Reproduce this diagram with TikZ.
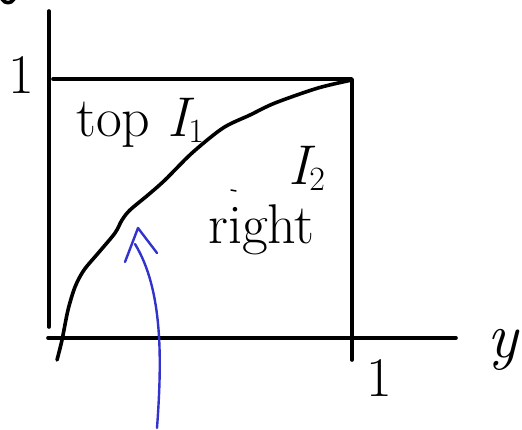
\documentclass[tikz,border=0pt]{standalone}
\newcommand{\subtxt}[1]{\raisebox{-0.12em}{\fontsize{34}{36}\selectfont #1}}
\begin{document}
\begin{tikzpicture}[x=1pt,y=-1pt,
  ink/.style={line width=3.6pt,line cap=round,line join=round,black},
  blueink/.style={line width=2.4pt,line cap=round,line join=round,color={rgb,255:red,50;green,50;blue,205}},
  hand/.style={inner sep=0pt,font=\fontsize{56}{60}\selectfont},
  handone/.style={inner sep=0pt,font=\fontsize{56}{60}\selectfont},
  handy/.style={inner sep=0pt,font=\fontsize{64}{66}\selectfont\itshape}]
\useasboundingbox (0,0) rectangle (522,429);
% axes
\coordinate (yb) at (49,327); \coordinate (yt) at (49,11);
\coordinate (xl) at (48,338); \coordinate (xr) at (456,338);
\draw[ink] (yb) -- (yt);
\draw[ink] (xl) -- (xr);
% square
\coordinate (tl) at (53,79); \coordinate (tr) at (352,79); \coordinate (br) at (352,360);
\draw[ink] (tl) -- (tr) -- (br);
% curve
\draw[ink] plot[smooth,tension=0.5] coordinates {(57,360) (62,340) (68,310) (75,287) (84,270) (100,251) (115,233) (122,220) (130,210) (148,195) (165,180) (192,153) (223,128) (250,115) (275,103) (318,88) (352,80)};
% stray marks
\draw[ink] (2,-1) .. controls (5,4) and (11,4) .. (14,-1);
\draw[line width=1.5pt,line cap=round] (231,190) -- (236,191);
% labels
\node[handone] (one1) at (21,75) {1};
\node[handone] (one2) at (379,378) {1};
\node[handy] (ylab) at (503,350) {y};
\node[hand,anchor=base west] (top) at (76,136) {top {\itshape I}\subtxt{1}};
\node[hand,anchor=base west] (i2) at (288,184) {{\itshape I}\subtxt{2}};
\node[hand,anchor=base west] (right) at (208,243) {right};
% blue arrow
\coordinate (ab) at (157,428); \coordinate (at) at (138,228);
\coordinate (aj) at (135,244);
\coordinate (bl) at (125,262); \coordinate (br2) at (157,253);
\draw[blueink] (ab) .. controls (162,360) and (163,290) .. (aj);
\draw[blueink] (bl) -- (at) -- (br2);
\end{tikzpicture}
\end{document}
